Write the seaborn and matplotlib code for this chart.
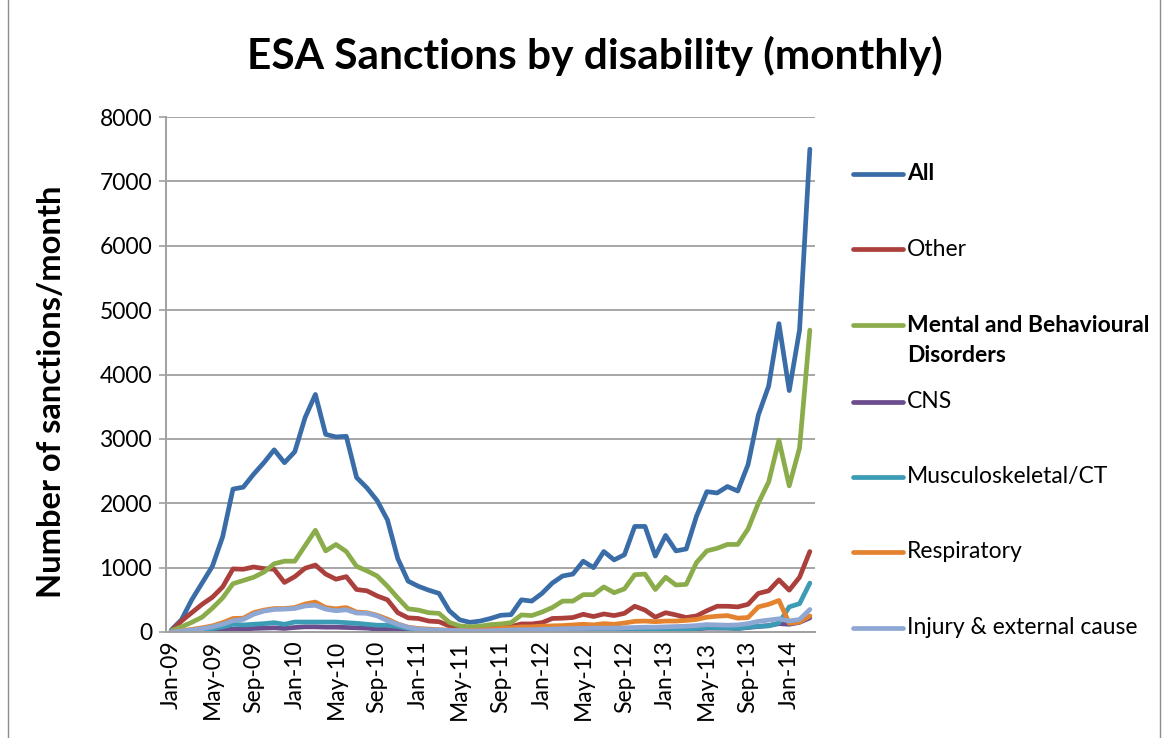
import numpy as np
import pandas as pd
import matplotlib
matplotlib.use("Agg")
import matplotlib.pyplot as plt
import seaborn as sns
from matplotlib.lines import Line2D

# ---------------- data ----------------
months = pd.date_range("2009-01-01", periods=63, freq="MS").strftime("%b-%y").tolist()
tick_labels = ["Jan-09", "May-09", "Sep-09", "Jan-10", "May-10", "Sep-10", "Jan-11", "May-11",
               "Sep-11", "Jan-12", "May-12", "Sep-12", "Jan-13", "May-13", "Sep-13", "Jan-14"]

series_names = ["All", "Other", "Mental and Behavioural Disorders", "CNS",
                "Musculoskeletal/CT", "Respiratory", "Injury & external cause"]

all_cases = [30, 190, 500, 760, 1020, 1480, 2220, 2250, 2450, 2630, 2830, 2630, 2800, 3330, 3690,
             3070, 3030, 3040, 2400, 2240, 2040, 1740, 1140, 790, 710, 650, 600, 330, 190, 150,
             170, 210, 260, 270, 500, 480, 600, 760, 870, 900, 1100, 1000, 1250, 1120, 1200,
             1640, 1640, 1180, 1500, 1260, 1290, 1800, 2180, 2160, 2260, 2190, 2600, 3370, 3820,
             4790, 3750, 4690, 7500]
other = [15, 170, 300, 430, 540, 700, 980, 975, 1010, 985, 975, 770, 860, 990, 1040,
         900, 820, 860, 660, 640, 560, 500, 300, 220, 210, 170, 160, 95, 55, 40,
         40, 55, 80, 85, 125, 125, 145, 210, 215, 225, 275, 240, 280, 255, 290,
         400, 340, 230, 300, 265, 225, 250, 330, 400, 400, 390, 430, 600, 640,
         810, 650, 850, 1250]
mental = [20, 80, 150, 230, 370, 530, 750, 800, 850, 930, 1060, 1100, 1100, 1340, 1580,
          1260, 1360, 1250, 1020, 950, 870, 710, 530, 360, 340, 300, 290, 150, 95, 80,
          90, 115, 125, 145, 265, 255, 310, 380, 480, 480, 580, 580, 700, 610, 670,
          890, 900, 660, 850, 730, 740, 1080, 1260, 1300, 1360, 1360, 1600, 2000, 2330,
          2980, 2270, 2860, 4690]
cns = [0, 5, 10, 15, 20, 30, 45, 45, 55, 60, 65, 55, 70, 80, 80,
       75, 75, 70, 65, 60, 45, 40, 30, 20, 15, 10, 10, 8, 5, 5,
       5, 5, 8, 10, 12, 15, 15, 18, 20, 22, 25, 25, 28, 25, 30,
       40, 40, 30, 45, 40, 40, 50, 60, 60, 60, 55, 70, 85, 100,
       130, 120, 150, 220]
musculo = [0, 10, 20, 35, 50, 80, 120, 110, 120, 130, 145, 120, 155, 155, 155,
           155, 155, 145, 135, 120, 105, 105, 85, 55, 35, 25, 20, 15, 10, 10,
           10, 10, 12, 15, 15, 18, 20, 22, 25, 25, 28, 30, 35, 30, 35,
           45, 45, 35, 50, 45, 45, 55, 70, 65, 65, 55, 75, 90, 95,
           140, 390, 440, 760]
respiratory = [0, 20, 40, 65, 95, 145, 210, 215, 300, 340, 365, 365, 380, 435, 465,
               380, 360, 380, 310, 300, 260, 200, 125, 75, 55, 45, 35, 30, 25, 25,
               30, 40, 60, 65, 80, 80, 90, 95, 100, 110, 120, 110, 130, 120, 140,
               165, 170, 160, 170, 170, 180, 195, 230, 245, 255, 215, 225, 390, 430,
               490, 135, 155, 250]
injury = [0, 15, 30, 50, 80, 120, 175, 195, 275, 325, 350, 355, 365, 405, 415,
          355, 330, 345, 295, 290, 250, 175, 120, 70, 45, 35, 30, 25, 20, 15,
          15, 20, 25, 30, 35, 35, 40, 45, 50, 55, 55, 60, 60, 60, 65,
          70, 75, 75, 80, 85, 90, 100, 115, 110, 105, 110, 130, 165, 185,
          205, 170, 195, 350]

colors = ["#3A6DA8", "#AA3F3C", "#8BAC4A", "#6B4D8D", "#3C9BB5", "#E4832F", "#8EA7D3"]
bold_entries = {"All", "Mental and Behavioural Disorders"}

# ---------------- frame ----------------
values = [all_cases, other, mental, cns, musculo, respiratory, injury]
df = pd.concat(
    [pd.DataFrame({"pos": np.arange(len(months)), "month": months, "value": v, "series": n})
     for n, v in zip(series_names, values)],
    ignore_index=True)

sns.set_theme(style="white")
plt.rcParams["font.family"] = ["Lato", "DejaVu Sans"]

W, H = 1168, 738
fig = plt.figure(figsize=(W / 100, H / 100), dpi=100)
fig.patch.set_facecolor("white")

L, R, T, B = 166, 815, 117, 632
ax = fig.add_axes([L / W, 1 - B / H, (R - L) / W, (B - T) / H])

sns.lineplot(data=df, x="pos", y="value", hue="series", hue_order=series_names,
             palette=colors, linewidth=3.4, legend=False, ax=ax, sort=False,
             solid_joinstyle="round", solid_capstyle="round")

FS = 16.5
ax.set_xlim(-0.5, len(months) - 0.5)
ax.set_ylim(0, 8000)
ax.set_yticks(np.arange(0, 8001, 1000))
ax.set_yticklabels([str(v) for v in range(0, 8001, 1000)], fontsize=FS, color="#000000")
tick_pos = [months.index(t) for t in tick_labels]
ax.set_xticks(tick_pos)
ax.set_xticklabels(tick_labels, rotation=90, fontsize=FS, color="#000000")
ax.tick_params(axis="y", length=5, width=1.2, color="#A0A0A0", pad=5, left=True)
ax.tick_params(axis="x", length=0, pad=6)

ax.grid(axis="y", color="#A6A6A6", linewidth=1.4)
ax.grid(axis="x", visible=False)
ax.set_axisbelow(True)
for s in ["top", "right"]:
    ax.spines[s].set_visible(False)
for s in ["left", "bottom"]:
    ax.spines[s].set_color("#A0A0A0")
    ax.spines[s].set_linewidth(1.4)

ax.set_xlabel("")
ax.set_ylabel("Number of sanctions/month", fontsize=23.5, fontweight="bold", color="#000000")
ax.yaxis.set_label_coords((66 - L) / (R - L), (B - 392) / (B - T))

ax.set_title("ESA Sanctions by disability (monthly)", fontsize=30.5, fontweight="bold",
             color="#000000", x=(595 - L) / (R - L), y=(B - 64) / (B - T), va="center")

# ---------------- legend (Excel style, right side) ----------------
legend_y = [174, 249, 325, 402, 477, 552, 628]
legend_lines = [["All"], ["Other"], ["Mental and Behavioural", "Disorders"], ["CNS"],
                ["Musculoskeletal/CT"], ["Respiratory"], ["Injury & external cause"]]
for name, lines, c, yy in zip(series_names, legend_lines, colors, legend_y):
    fig.add_artist(Line2D([853 / W, 903 / W], [1 - yy / H, 1 - yy / H],
                          transform=fig.transFigure, color=c, linewidth=3.4,
                          solid_capstyle="round"))
    for k, txt in enumerate(lines):
        fig.text(907 / W, 1 - (yy + 30 * k) / H, txt, fontsize=FS,
                 fontweight="bold" if name in bold_entries else "normal",
                 ha="left", va="center", color="#000000", transform=fig.transFigure)

# chart area border
for xb in [8, 1160]:
    fig.add_artist(Line2D([xb / W, xb / W], [0, 1], transform=fig.transFigure,
                          color="#8C8C8C", linewidth=1.0))

fig.savefig("out.png", dpi=100, facecolor="white")
